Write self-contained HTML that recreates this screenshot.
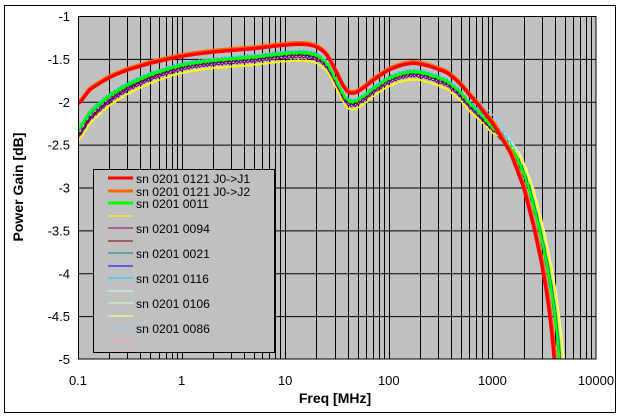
<!DOCTYPE html>
<html><head><meta charset="utf-8"><style>
html,body{margin:0;padding:0;background:#fff;width:623px;height:419px;overflow:hidden;}
svg{display:block;font-family:"Liberation Sans","DejaVu Sans",sans-serif;}
</style></head><body>
<svg id="s" width="623" height="419" viewBox="0 0 623 419" xmlns="http://www.w3.org/2000/svg">
<rect x="4.5" y="5.5" width="611" height="407" fill="#fff" stroke="#000" stroke-width="1"/>
<defs><clipPath id="c"><rect x="78" y="16" width="518" height="343"/></clipPath></defs>
<rect x="78" y="16" width="518" height="343" fill="#c0c0c0"/>
<g id="grid" stroke="#000" stroke-width="1"></g>
<g id="curves" clip-path="url(#c)" fill="none" stroke-linejoin="round"></g>
<rect x="78.5" y="16.5" width="517.5" height="342.5" fill="none" stroke="#000"/>
<g id="lbl" font-size="13" fill="#000"></g>
<text x="335" y="403" font-size="14" font-weight="bold" text-anchor="middle">Freq [MHz]</text>
<text transform="translate(23,187) rotate(-90)" font-size="14" font-weight="bold" text-anchor="middle">Power Gain [dB]</text>
<rect x="93.5" y="169.5" width="181" height="183" fill="#c0c0c0" stroke="#000"/>
<g id="leg" font-size="12.2"></g>
</svg>
<script>
var NS="http://www.w3.org/2000/svg";
function el(t,a,p,txt){var e=document.createElementNS(NS,t);for(var k in a)e.setAttribute(k,a[k]);if(txt)e.textContent=txt;p.appendChild(e);return e;}
var X0=78,PX=103.6,Y0=16,PY=85.75;
function X(f){return X0+(Math.log10(f)+1)*PX;}
function Y(v){return Y0+(-1-v)*PY;}
var g=document.getElementById('grid'),L=document.getElementById('lbl');
for(var i=1;i<8;i++){var y=Y(-1-i*0.5)+0.5;el('line',{x1:78,x2:596,y1:y,y2:y},g);}
for(var d=-1;d<4;d++)for(var m=1;m<10;m++){var f=m*Math.pow(10,d);if(f<=0.1)continue;var x=Math.round(X(f))+0.5;el('line',{x1:x,x2:x,y1:16,y2:359},g);}
var yl=["-1","-1.5","-2","-2.5","-3","-3.5","-4","-4.5","-5"];
for(var i=0;i<9;i++)el('text',{x:70,y:Y(-1-i*0.5)+5,'text-anchor':'end'},L,yl[i]);
var xl=["0.1","1","10","100","1000","10000"];
for(var i=0;i<6;i++)el('text',{x:X0+i*PX,y:385,'text-anchor':'middle'},L,xl[i]);
var P=[[0.1,-2.02],[0.13,-1.86],[0.2,-1.72],[0.3,-1.63],[0.5,-1.55],[1,-1.47],[2,-1.42],[5,-1.38],[10,-1.34],[15,-1.33],[20,-1.36],[25,-1.45],[30,-1.62],[38,-1.85],[45,-1.9],[55,-1.85],[70,-1.75],[100,-1.63],[150,-1.56],[200,-1.56],[300,-1.62],[400,-1.7],[600,-1.92],[1000,-2.25],[1500,-2.6],[2000,-3.0],[2500,-3.45],[3000,-3.9],[3500,-4.4],[4000,-5.1],[5000,-6.5]];
function base(f){var l=Math.log10(f);if(f<=P[0][0])return P[0][1]-(Math.log10(P[0][0])-l)*2;
for(var i=0;i<P.length-1;i++){var a=Math.log10(P[i][0]),b=Math.log10(P[i+1][0]);if(l<=b){
var t=(l-a)/(b-a);var p0=P[Math.max(i-1,0)][1],p1=P[i][1],p2=P[i+1][1],p3=P[Math.min(i+2,P.length-1)][1];
var t2=t*t,t3=t2*t;return 0.5*((2*p1)+(-p0+p2)*t+(2*p0-5*p1+4*p2-p3)*t2+(-p0+3*p1-3*p2+p3)*t3);}}
return -7;}
var S=[
["#ff0000",3.5,0,0,1.0,"sn 0201 0121 J0->J1"],
["#ff6600",3,0.02,0.0,1.03,"sn 0201 0121 J0->J2"],
["#00ff00",2.5,-0.1,-0.2,1.12,"sn 0201 0011"],
["#ffff00",1.5,-0.19,-0.25,1.2,""],
["#800080",1.2,-0.15,-0.25,1.12,"sn 0201 0094"],
["#800000",1.2,-0.12,-0.25,1.14,""],
["#008080",1.2,-0.11,-0.22,1.15,"sn 0201 0021"],
["#0000ff",1.2,-0.13,-0.25,1.1,""],
["#00ccff",1.2,-0.08,-0.2,1.18,"sn 0201 0116"],
["#ccffff",1.2,-0.12,-0.24,1.2,""],
["#ccffcc",1.2,-0.09,-0.21,1.18,"sn 0201 0106"],
["#ffff99",1.2,-0.14,-0.23,1.24,""],
["#99ccff",1.2,0.02,-0.02,1.2,"sn 0201 0086"],
["#ff99cc",1.2,-0.1,-0.2,1.2,""]];
var C=document.getElementById('curves');
for(var k=S.length-1;k>=0;k--){var s=S[k],d="";
for(var px=78;px<=596;px+=1.5){var f=Math.pow(10,(px-X0)/PX-1);
var lowx=Math.max(0,1-(Math.log10(f)+1)/1.2);
var r=f>600?Math.min(1,Math.log10(f/600)/0.35):0;
var ff=f/Math.pow(s[4],r);
var hf=f>1000?Math.min(1,Math.log10(f/1000)/0.3):0;
var v=base(ff)+s[2]*(1-hf)+s[3]*lowx*lowx+(k>1?0.012*Math.sin(px*1.7+k):0);
d+=(d?"L":"M")+px.toFixed(1)+","+Y(v).toFixed(1);}
el('path',{d:d,stroke:s[0],'stroke-width':s[1]},C);}
var G=document.getElementById('leg');
var ys=[178,191,203,216,228,241,253,266,278,291,303,316,328,341];
for(var i=0;i<14;i++){el('line',{x1:108,x2:133,y1:ys[i],y2:ys[i],stroke:S[i][0],'stroke-width':i<3?3:1},G);
if(S[i][5])el('text',{x:136,y:ys[i]+5},G,S[i][5]);}
</script>
</body></html>
